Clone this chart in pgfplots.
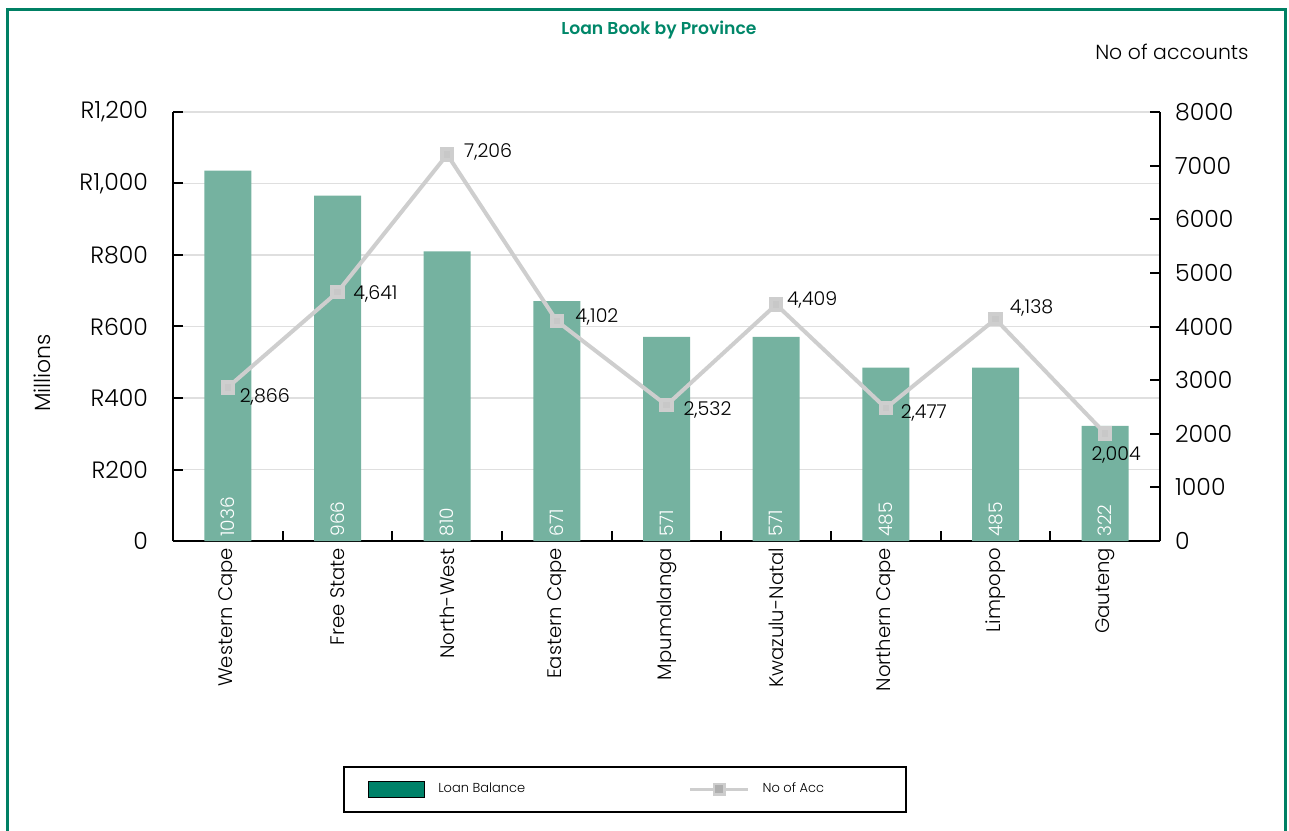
\documentclass[border=0pt]{standalone}
\usepackage{pgfplots}
\pgfplotsset{compat=1.18}
\usepackage{pgfplotstable}
\usepackage{fontspec}
\setmainfont{Poppins}[UprightFont=* Light, BoldFont=* SemiBold]
\definecolor{framegreen}{RGB}{0,128,100}
\definecolor{bargreen}{RGB}{117,178,160}
\definecolor{leggreen}{RGB}{0,130,105}
\definecolor{linegray}{RGB}{206,206,206}
\definecolor{markgray}{RGB}{200,200,200}
\definecolor{legmarkgray}{RGB}{175,175,175}
\definecolor{titlegreen}{RGB}{0,135,105}

\pgfplotsset{
  linelegend/.style={legend image code/.code={\draw[##1, line width=1.2pt, mark repeat=2, mark phase=2, mark options={fill=legmarkgray, draw=none}] plot coordinates {(0pt,0pt) (14.5pt,0pt) (29pt,0pt)};}},
  barlegend/.style={legend image code/.code={\draw[fill=leggreen, draw=black, line width=0.6pt] (0pt,-4pt) rectangle (28pt,4pt);}},
}

\pgfplotstableread{
x bal
0 1036
1 966
2 810
3 671
4 571
5 571
6 485
7 485
8 322
}\bars

\pgfplotstableread{
x acc lab dx dy
0 2866 2,866 18.5 -5
1 4641 4,641 19 -1
2 7206 7,206 20.5 1.5
3 4102 4,102 20 2
4 2532 2,532 20.5 -2.5
5 4409 4,409 18 2.5
6 2477 2,477 19 -2.5
7 4138 4,138 18 5.5
8 2004 2,004 5.5 -10.5
}\accs

\begin{document}
\begin{tikzpicture}
\useasboundingbox (0,0) rectangle (644.5pt,415pt);
\draw[framegreen, line width=1.5pt] (3.5pt,-10pt) rectangle (642.5pt,410pt);
\node[font=\bfseries\fontsize{8.6}{10}\selectfont, text=titlegreen] at (329.5pt,400pt) {Loan Book by Province};
\node[font=\fontsize{10.2}{12}\selectfont, anchor=east, inner sep=0pt] at (624.5pt,389pt) {No of accounts};
\node[font=\fontsize{11}{13}\selectfont, rotate=90] at (21pt,228.5pt) {Millions};

\begin{axis}[
  at={(86.5pt,144.5pt)}, anchor=south west,
  scale only axis, width=493.5pt, height=214.5pt,
  xmin=-0.5, xmax=8.5, ymin=0, ymax=1200,
  axis x line*=bottom, axis y line*=left,
  axis line style={-, line width=1pt, black},
  tick align=inside, major tick length=5pt,
  tick style={black, line width=1pt},
  xtick={-0.5,0.5,...,8.5},
  x tick label as interval,
  xticklabels={Western Cape,Free State,North-West,Eastern Cape,Mpumalanga,Kwazulu-Natal,Northern Cape,Limpopo,Gauteng},
  x tick label style={rotate=90, anchor=east, font=\fontsize{9.8}{12}\selectfont},
  ytick={0,200,...,1200},
  yticklabels={0,R200,R400,R600,R800,{R1,000},{R1,200}},
  y tick label style={font=\fontsize{11.8}{14}\selectfont, xshift=-9pt},
  ymajorgrids, grid style={gray!25, line width=0.6pt},
]
\addplot[ybar, bar width=23.5pt, fill=bargreen, draw=none] table[x=x,y=bal]{\bars};
\addplot[draw=none, mark=none, nodes near coords, point meta=explicit symbolic,
  nodes near coords style={rotate=90, anchor=west, text=white, inner sep=2pt, font=\fontsize{9.3}{11}\selectfont}]
  table[x=x, y expr=0, meta=bal]{\bars};
\end{axis}

\begin{axis}[
  at={(86.5pt,144.5pt)}, anchor=south west,
  scale only axis, width=493.5pt, height=214.5pt,
  xmin=-0.5, xmax=8.5, ymin=0, ymax=8000,
  axis x line=none, axis y line*=right,
  axis line style={-, line width=1pt, black},
  tick align=inside, major tick length=5pt,
  tick style={black, line width=1pt},
  ytick={0,1000,...,8000},
  /pgf/number format/assume math mode=true,
  /pgf/number format/1000 sep={},
  y tick label style={font=\fontsize{11.8}{14}\selectfont, xshift=4pt},
  legend style={at={(axis description cs:0.458,-0.579)}, anchor=center,
    draw=black, line width=0.75pt, legend columns=2,
    font=\fontsize{6.5}{8}\selectfont, inner xsep=12pt, inner ysep=6pt,
    /tikz/every odd column/.append style={column sep=4.5pt},
    /tikz/every even column/.append style={column sep=80pt}},
]
\addlegendimage{barlegend}
\addlegendentry{Loan Balance}
\addplot[color=linegray, line width=2pt, mark=square*, mark size=2.6pt,
  mark options={fill=markgray, draw=none}, linelegend]
  table[x=x,y=acc]{\accs};
\addlegendentry{No of Acc\hspace*{27pt}}
\addplot[draw=none, mark=none, forget plot, nodes near coords, point meta=explicit symbolic,
  visualization depends on={\thisrow{dx}\as\dx},
  visualization depends on={\thisrow{dy}\as\dy},
  nodes near coords style={anchor=center, xshift=\dx pt, yshift=\dy pt, font=\fontsize{9.5}{11}\selectfont, text=black}]
  table[x=x,y=acc,meta=lab]{\accs};
\end{axis}
\end{tikzpicture}
\end{document}
